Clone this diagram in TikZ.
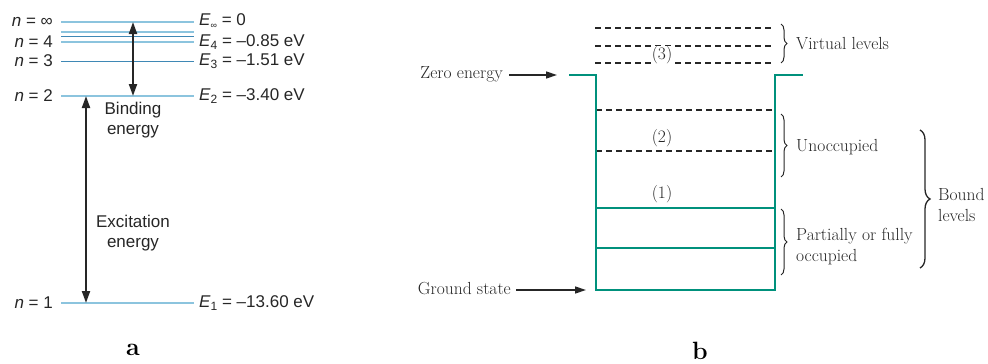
\documentclass[tikz,border=0pt]{standalone}
\usepackage{fontspec}
\newfontfamily\sfa{Liberation Sans}
\usetikzlibrary{arrows.meta,decorations.pathreplacing}
\definecolor{lvl}{HTML}{8CC4DE}
\definecolor{lvldark}{HTML}{3F88B5}
\definecolor{tealb}{HTML}{00917C}
\begin{document}
\begin{tikzpicture}[x=1pt,y=-1pt,
  lvlline/.style={draw=lvl,line width=1.4pt},
  lvlthin/.style={draw=lvldark,line width=0.8pt},
  dbl/.style={draw=black!85,line width=2pt,{Triangle[width=8pt,length=12pt]}-{Triangle[width=8pt,length=12pt]}},
  sflab/.style={font=\sfa\fontsize{17}{20}\selectfont,text=black!85,inner sep=0pt},
  sflabc/.style={sflab,align=center},
  well/.style={draw=tealb,line width=1.6pt},
  dashline/.style={draw=black!85,line width=1.4pt,dash pattern=on 6pt off 4pt},
  serif/.style={font=\fontsize{17.5}{21}\selectfont,text=black!85,inner sep=0pt},
  ptr/.style={draw=black!85,line width=1.4pt,-{Triangle[width=7pt,length=11pt]}},
  brc/.style={draw=black!85,line width=1pt,decoration={brace,amplitude=6pt},decorate},
  brcbig/.style={draw=black!85,line width=1.3pt,decoration={brace,amplitude=10pt},decorate}]
\useasboundingbox (0,0) rectangle (988,364);
% ---------- part a ----------
\draw[lvlline] (61,22) -- (194,22);
\draw[lvlline] (61,32) -- (194,32);
\draw[lvlthin] (61,36) -- (194,36);
\draw[lvlline] (61,42) -- (194,42);
\draw[lvlthin] (61,61) -- (194,61);
\draw[lvlline] (61,96) -- (194,96);
\draw[lvlline] (61,303) -- (194,303);
\coordinate (binf) at (133,22);
\coordinate (btwo) at (133,96);
\coordinate (etwo) at (86,96);
\coordinate (eone) at (86,303);
\draw[dbl] (binf) -- (btwo);
\draw[dbl] (etwo) -- (eone);
\node[sflabc] (bind) at (133,120) {Binding\\energy};
\node[sflabc] (exc) at (133,233) {Excitation\\energy};
\node[sflab,anchor=east] (ninf) at (53,22) {\textit{n} = ∞};
\node[sflab,anchor=east] (nfour) at (53,42) {\textit{n} = 4};
\node[sflab,anchor=east] (nthree) at (53,61) {\textit{n} = 3};
\node[sflab,anchor=east] (ntwo) at (53,96) {\textit{n} = 2};
\node[sflab,anchor=east] (none) at (53,303) {\textit{n} = 1};
\node[sflab,anchor=west] (Einf) at (199,21) {\textit{E}\raisebox{-3pt}{\fontsize{9}{9}\selectfont ∞} = 0};
\node[sflab,anchor=west] (Efour) at (199,42) {\textit{E}\raisebox{-3pt}{\fontsize{12}{12}\selectfont 4} = –0.85 eV};
\node[sflab,anchor=west] (Ethree) at (199,61) {\textit{E}\raisebox{-3pt}{\fontsize{12}{12}\selectfont 3} = –1.51 eV};
\node[sflab,anchor=west] (Etwo) at (199,96) {\textit{E}\raisebox{-3pt}{\fontsize{12}{12}\selectfont 2} = –3.40 eV};
\node[sflab,anchor=west] (Eone) at (199,303) {\textit{E}\raisebox{-3pt}{\fontsize{12}{12}\selectfont 1} = –13.60 eV};
\node[font=\bfseries\fontsize{25}{25}\selectfont,inner sep=0pt] (la) at (133,350) {a};
% ---------- part b ----------
\draw[dashline] (595,28) -- (771,28);
\draw[dashline] (595,46) -- (771,46);
\draw[dashline] (595,63) -- (771,63);
\draw[dashline] (596,110) -- (775,110);
\draw[dashline] (596,151) -- (775,151);
\draw[well] (569,75) -- (596,75) -- (596,290) -- (775,290) -- (775,75) -- (803,75);
\draw[well] (596,208) -- (775,208);
\draw[well] (596,248) -- (775,248);
\node[serif,fill=white,inner xsep=1pt,inner ysep=0pt] (l3) at (662,55) {(3)};
\node[serif] (l2) at (662,138) {(2)};
\node[serif] (l1) at (662,194) {(1)};
\node[serif,anchor=east] (zero) at (503,74) {Zero energy};
\coordinate (zerotip) at (557,75);
\draw[ptr] (509,75) coordinate (zs) -- (zerotip);
\node[serif,anchor=east] (ground) at (511,289) {Ground state};
\coordinate (groundtip) at (586,290);
\draw[ptr] (516,290) coordinate (gs) -- (groundtip);
\draw[brc] (781,24) -- (781,63);
\node[serif,anchor=west] (virt) at (796,44) {Virtual levels};
\draw[brc] (781,114) -- (781,177);
\node[serif,anchor=west] (unocc) at (796,147) {Unoccupied};
\draw[brc] (781,209) -- (781,275);
\node[serif,anchor=west,align=left] (part) at (796,247) {Partially or fully\\occupied};
\draw[brcbig] (920,130) -- (920,268);
\node[serif,anchor=west,align=left] (bound) at (938,205) {Bound\\levels};
\node[font=\bfseries\fontsize{25}{25}\selectfont,inner sep=0pt] (lb) at (700,351) {b};
\end{tikzpicture}
\end{document}
